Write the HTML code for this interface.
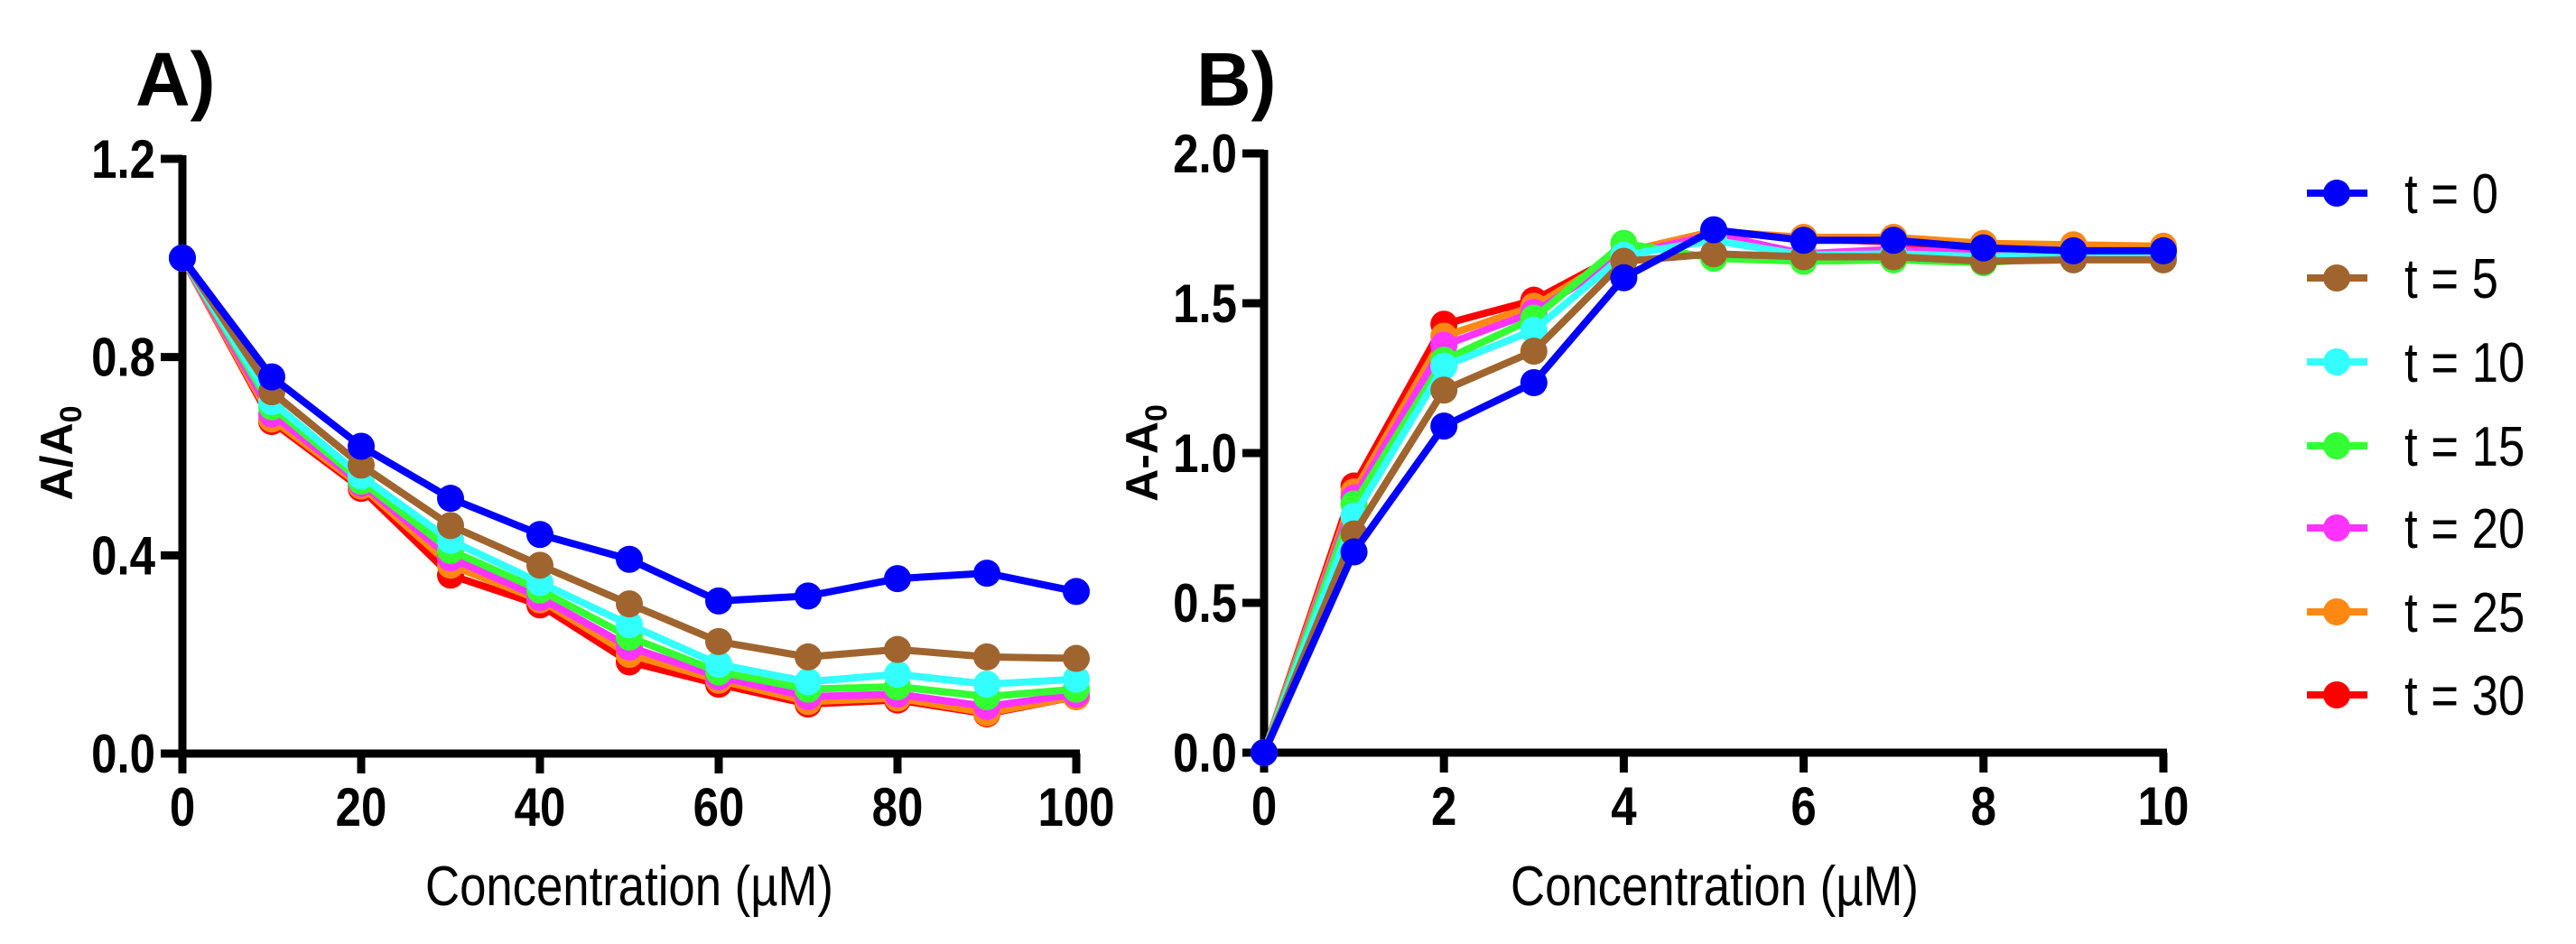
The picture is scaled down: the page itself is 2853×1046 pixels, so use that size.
<!DOCTYPE html>
<html><head><meta charset="utf-8"><style>
html,body{margin:0;padding:0;background:#fff}
svg{display:block}
.tk{font-family:"Liberation Sans Narrow","Liberation Sans",sans-serif;font-weight:bold;font-size:60px}
.ttl{font-family:"Liberation Sans Narrow","Liberation Sans",sans-serif;font-size:62px}
.pl{font-family:"Liberation Sans",sans-serif;font-weight:bold;font-size:84px}
.yt{font-family:"Liberation Sans",sans-serif;font-weight:bold;font-size:50px}
</style></head><body>
<svg id="c" width="2853" height="1046" xmlns="http://www.w3.org/2000/svg"></svg>
<script>
const seriesNames=["t = 0","t = 5","t = 10","t = 15","t = 20","t = 25","t = 30"];
const seriesColors=["#0000ff","#a0652e","#33ffff","#33ff33","#ff33ff","#ff8811","#ff0000"];
const xA=[0,10,20,30,40,50,60,70,80,90,100];
const a0=[1,0.76,0.62,0.515,0.442,0.392,0.308,0.318,0.353,0.364,0.327];
const a5=[1,0.73,0.582,0.46,0.38,0.302,0.226,0.195,0.21,0.195,0.192];
const a10=[1,0.71,0.56,0.43,0.345,0.26,0.18,0.145,0.16,0.14,0.15];
const a15=[1,0.70,0.55,0.41,0.33,0.235,0.165,0.13,0.135,0.115,0.13];
const a20=[1,0.685,0.545,0.395,0.315,0.215,0.155,0.115,0.12,0.095,0.12];
const a25=[1,0.675,0.54,0.38,0.31,0.20,0.148,0.105,0.112,0.082,0.115];
const a30=[1,0.67,0.535,0.36,0.30,0.185,0.14,0.10,0.108,0.08,0.115];
const xB=[0,1,2,3,4,5,6,7,8,9,10];
const b0=[0,0.67,1.09,1.235,1.585,1.745,1.71,1.71,1.685,1.675,1.675];
const b5=[0,0.73,1.21,1.34,1.64,1.665,1.655,1.655,1.64,1.645,1.645];
const b10=[0,0.79,1.29,1.41,1.66,1.71,1.66,1.665,1.655,1.665,1.665];
const b15=[0,0.83,1.31,1.45,1.70,1.65,1.64,1.645,1.635,1.655,1.655];
const b20=[0,0.85,1.36,1.47,1.66,1.73,1.665,1.68,1.665,1.67,1.675];
const b25=[0,0.87,1.39,1.49,1.67,1.74,1.72,1.72,1.70,1.695,1.69];
const b30=[0,0.89,1.43,1.51,1.67,1.74,1.715,1.705,1.675,1.665,1.665];
const xTicksA=[0,20,40,60,80,100];
const yTicksA=[0,0.4,0.8,1.2];
const yTickLabelsA=["0.0","0.4","0.8","1.2"];
const xTicksB=[0,2,4,6,8,10];
const yTicksB=[0,0.5,1.0,1.5,2.0];
const yTickLabelsB=["0.0","0.5","1.0","1.5","2.0"];

const NS="http://www.w3.org/2000/svg";
const svg=document.getElementById('c');
const SX=0.85;
function mk(tag,attrs,parent,txt){const e=document.createElementNS(NS,tag);for(const k in attrs)e.setAttribute(k,attrs[k]);if(txt!==undefined)e.textContent=txt;(parent||svg).appendChild(e);return e;}
function ntext(x,y,anchor,cls,parent,txt){return mk('text',{transform:`translate(${x},${y}) scale(${SX},1)`,'text-anchor':anchor,class:cls},parent,txt);}

function panel(cfg){
  const g=mk('g',{});
  
  
  const sx=v=>cfg.x0+(v-cfg.xmin)/(cfg.xmax-cfg.xmin)*(cfg.x1-cfg.x0);
  const sy=v=>cfg.y0+(v-cfg.ymin)/(cfg.ymax-cfg.ymin)*(cfg.y1-cfg.y0);
  const ax=mk('path',{d:`M${cfg.x0} ${sy(cfg.ymax)-4}V${cfg.y0}H${cfg.x1+4}`,stroke:'#000','stroke-width':9,fill:'none'},g);
  
  
  cfg.yt.forEach((v,i)=>{
    const t=mk('line',{x1:cfg.x0-24,x2:cfg.x0,y1:sy(v),y2:sy(v),stroke:'#000','stroke-width':9},g);
    
    
    const l=ntext(cfg.x0-30,sy(v)+21,'end','tk',g,cfg.ytl[i]);
    
    
  });
  cfg.xt.forEach(v=>{
    const t=mk('line',{x1:sx(v),x2:sx(v),y1:cfg.y0,y2:cfg.y0+22,stroke:'#000','stroke-width':9},g);
    
    
    const l=ntext(sx(v),cfg.y0+80,'middle','tk',g,String(v));
    
    
  });
  const xt=ntext(cfg.xtX,1003,'middle','ttl',g,'Concentration (\u00b5M)');
  
  
  const yt=mk('text',{transform:`translate(${cfg.ytX},502) rotate(-90)`,'text-anchor':'middle',class:'yt'},g);
  
  
  mk('tspan',{},yt,cfg.ytxt);
  mk('tspan',{'font-size':'34px',dy:'10'},yt,'0');
  const pl=mk('text',{x:cfg.plX,y:117,class:'pl'},g,cfg.plabel);
  
  
  for(let s=cfg.series.length-1;s>=0;s--){
    const vals=cfg.series[s];
    const sg=mk('g',{},g);
    
    
    const pts=vals.map((v,i)=>sx(cfg.xs[i])+','+sy(v)).join(' ');
    const ln=mk('polyline',{points:pts,fill:'none',stroke:seriesColors[s],'stroke-width':8,'stroke-linejoin':'round'},sg);
    
    
    vals.forEach((v,i)=>{
      const c=mk('circle',{cx:sx(cfg.xs[i]),cy:sy(v),r:15,fill:seriesColors[s]},sg);
      
      
    });
  }
}
panel({name:'panel-a',x0:202,x1:1192,y0:835,y1:176,xmin:0,xmax:100,ymin:0,ymax:1.2,xs:xA,series:[a0,a5,a10,a15,a20,a25,a30],xt:xTicksA,yt:yTicksA,ytl:yTickLabelsA,xtX:697,ytX:80,ytxt:'A/A',plX:150,plabel:'A)'});
panel({name:'panel-b',x0:1400,x1:2396,y0:834,y1:170,xmin:0,xmax:10,ymin:0,ymax:2,xs:xB,series:[b0,b5,b10,b15,b20,b25,b30],xt:xTicksB,yt:yTicksB,ytl:yTickLabelsB,xtX:1899,ytX:1282,ytxt:'A-A',plX:1325,plabel:'B)'});

const lg=mk('g',{});


const legY=[214,308,401,494,585,678,770];
seriesNames.forEach((n,i)=>{
  const e=mk('g',{},lg);
  
  
  mk('line',{x1:2555,x2:2622,y1:legY[i],y2:legY[i],stroke:seriesColors[i],'stroke-width':8},e);
  mk('circle',{cx:2588,cy:legY[i],r:15,fill:seriesColors[i]},e);
  ntext(2663,legY[i]+22,'start','ttl',e,n);
});
</script>
</body></html>
